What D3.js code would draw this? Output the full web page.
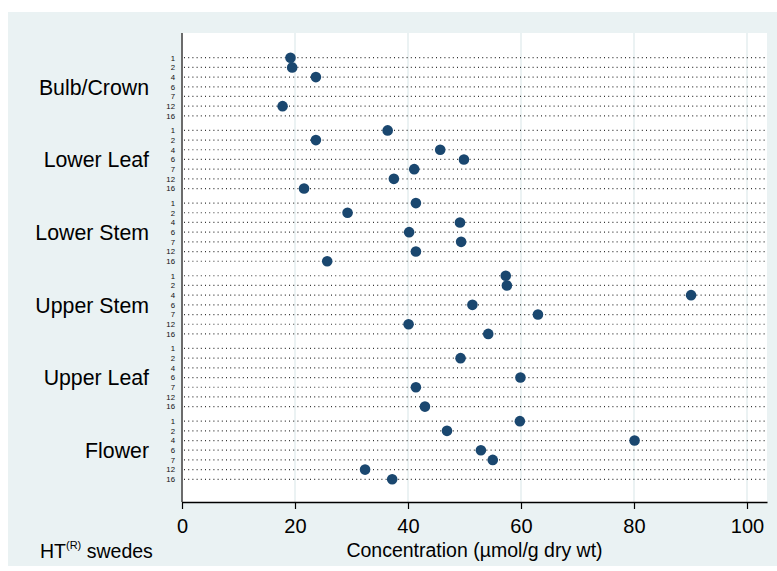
<!DOCTYPE html>
<html>
<head>
<meta charset="utf-8">
<script src="https://cdn.jsdelivr.net/npm/d3@7"></script>
<style>
  body { margin: 0; background: #ffffff; }
  svg { display: block; font-family: "Liberation Sans", Arial, Helvetica, sans-serif; }
</style>
</head>
<body>
<svg id="chart" width="777" height="571"></svg>
<script>
// Plant parts (outer groups) and sampling times (inner rows)
const parts = ["Bulb/Crown", "Lower Leaf", "Lower Stem", "Upper Stem", "Upper Leaf", "Flower"];
const times = ["1", "2", "4", "6", "7", "12", "16"];

// Concentration per part, one value per sampling time (null = not measured)
const bulbCrown = [19.2, 19.5, 23.7, null, null, 17.8, null];
const lowerLeaf = [36.4, 23.7, 45.7, 49.9, 41.1, 37.5, 21.6];
const lowerStem = [41.4, 29.3, 49.2, 40.2, 49.4, 41.4, 25.7];
const upperStem = [57.3, 57.5, 90.1, 51.4, 63.0, 40.1, 54.2];
const upperLeaf = [null, 49.3, null, 59.9, 41.4, null, 43.0];
const flower    = [59.8, 46.9, 80.1, 52.9, 55.0, 32.4, 37.2];

const xTicks = [0, 20, 40, 60, 80, 100];

const seriesByPart = [bulbCrown, lowerLeaf, lowerStem, upperStem, upperLeaf, flower];

// Flatten into rows
const rows = [];
parts.forEach((p, g) => {
  times.forEach((t, i) => {
    rows.push({ part: p, g, time: t, i, value: seriesByPart[g][i] });
  });
});

const svg = d3.select("#chart");
const W = 777, H = 571;

// Graph region and plot region
const plot = { left: 182, right: 767, top: 33, bottom: 502 };

svg.append("rect")
  .attr("x", 8).attr("y", 12)
  .attr("width", W - 8).attr("height", 554)
  .attr("fill", "#eaf2f3");

svg.append("rect")
  .attr("x", plot.left).attr("y", plot.top)
  .attr("width", plot.right - plot.left).attr("height", plot.bottom - plot.top)
  .attr("fill", "#ffffff");

// Scales
const x = d3.scaleLinear()
  .domain([0, 103.54])
  .range([plot.left, plot.right]);

// Each group takes 7 rows plus a half-row gap
const slot = d => d.g * 7.5 + d.i;
const y = d3.scaleLinear()
  .domain([0, (parts.length - 1) * 7.5 + (times.length - 1)])
  .range([57.7, 479.3]);

// Vertical gridlines
svg.append("g")
  .selectAll("line")
  .data(xTicks.filter(v => v > 0))
  .join("line")
  .attr("x1", d => x(d)).attr("x2", d => x(d))
  .attr("y1", plot.top).attr("y2", plot.bottom)
  .attr("stroke", "#e6eff0")
  .attr("stroke-width", 1.6);

// Dotted row lines
svg.append("g")
  .selectAll("line")
  .data(rows)
  .join("line")
  .attr("x1", plot.left + 2).attr("x2", plot.right)
  .attr("y1", d => y(slot(d))).attr("y2", d => y(slot(d)))
  .attr("stroke", "#333")
  .attr("stroke-width", 1.2)
  .attr("stroke-dasharray", "1 3.2");

// Row (time) labels
svg.append("g")
  .selectAll("text")
  .data(rows)
  .join("text")
  .attr("x", 175)
  .attr("y", d => y(slot(d)) + 2.8)
  .attr("text-anchor", "end")
  .attr("font-size", 7.8)
  .attr("fill", "#111")
  .text(d => d.time);

// Group labels
svg.append("g")
  .selectAll("text")
  .data(parts)
  .join("text")
  .attr("x", 149)
  .attr("y", (d, g) => y(g * 7.5 + 3) + 7.8)
  .attr("text-anchor", "end")
  .attr("font-size", 21.3)
  .attr("fill", "#000")
  .text(d => d);

// Left axis line
svg.append("line")
  .attr("x1", plot.left).attr("x2", plot.left)
  .attr("y1", plot.top).attr("y2", plot.bottom)
  .attr("stroke", "#6b6b6b")
  .attr("stroke-width", 2);

// Bottom axis
const xAxis = svg.append("g")
  .attr("transform", `translate(0,${plot.bottom})`)
  .call(d3.axisBottom(x).tickValues(xTicks).tickSizeInner(7).tickSizeOuter(0).tickFormat(d3.format("d")));
xAxis.select(".domain").attr("stroke", "#000").attr("stroke-width", 1.4);
xAxis.selectAll(".tick line").attr("stroke", "#000").attr("stroke-width", 1.2);
xAxis.selectAll(".tick text")
  .attr("y", 31).attr("dy", null)
  .attr("font-size", 20)
  .attr("font-family", "Liberation Sans, Arial, sans-serif")
  .attr("fill", "#000");

// Points
svg.append("g")
  .selectAll("circle")
  .data(rows.filter(d => d.value != null))
  .join("circle")
  .attr("cx", d => x(d.value))
  .attr("cy", d => y(slot(d)))
  .attr("r", 5.3)
  .attr("fill", "#1a476f");

// Axis title
svg.append("text")
  .attr("x", (plot.left + plot.right) / 2)
  .attr("y", 557)
  .attr("text-anchor", "middle")
  .attr("font-size", 19.5)
  .attr("fill", "#000")
  .text("Concentration (µmol/g dry wt)");

// Caption with superscript
const cap = svg.append("text")
  .attr("x", 40).attr("y", 558)
  .attr("font-size", 19.5)
  .attr("fill", "#000");
cap.append("tspan").text("HT");
cap.append("tspan").attr("font-size", 11).attr("dy", -9).text("(R)");
cap.append("tspan").attr("dy", 9).text(" swedes");
</script>
</body>
</html>
